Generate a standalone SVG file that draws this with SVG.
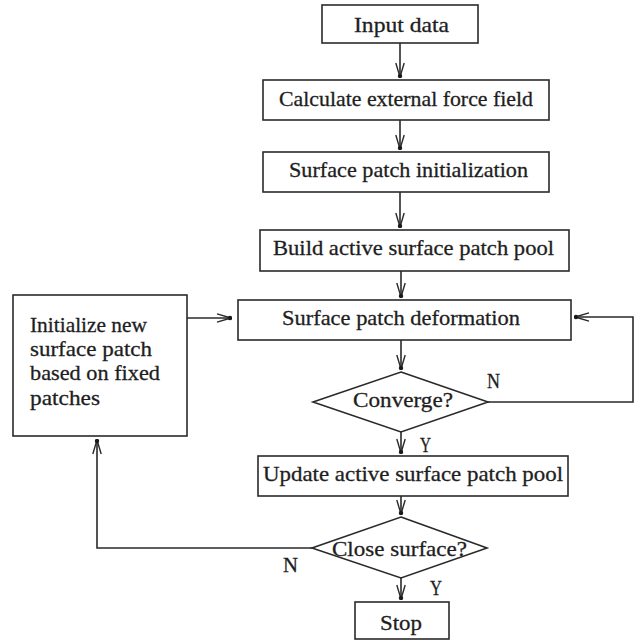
<svg xmlns="http://www.w3.org/2000/svg" width="637" height="640" viewBox="0 0 637 640">
  <style>
    .box { fill: #ffffff; stroke: #2a2a2a; stroke-width: 1.6; }
    .lbl { font-family: "Liberation Serif", "Times New Roman", serif; font-size: 22px; fill: #1e1e1e; stroke: #1e1e1e; stroke-width: 0.3; }
    .wire { fill: none; stroke: #2a2a2a; stroke-width: 1.6; }
  </style>
  <defs>
    <!-- open barbed arrowhead with a dot at the tip -->
    <marker id="arr" viewBox="0 0 16 12" markerWidth="16" markerHeight="12" refX="15" refY="6" orient="auto" markerUnits="userSpaceOnUse">
      <path d="M1,1.8 L15,6 L1,10.2" fill="none" stroke="#2a2a2a" stroke-width="1.4"/>
      <circle cx="14" cy="6" r="2.2" fill="#1a1a1a"/>
    </marker>
  </defs>

  <rect width="637" height="640" fill="#ffffff"/>

  <g id="connectors">
    <line class="wire" x1="400" y1="43" x2="400" y2="77" marker-end="url(#arr)"/>
    <line class="wire" x1="400" y1="120" x2="400" y2="149" marker-end="url(#arr)"/>
    <line class="wire" x1="400" y1="192" x2="400" y2="227" marker-end="url(#arr)"/>
    <line class="wire" x1="401" y1="271" x2="401" y2="297" marker-end="url(#arr)"/>
    <line class="wire" x1="401" y1="340" x2="401" y2="369" marker-end="url(#arr)"/>
    <line class="wire" x1="401" y1="432" x2="401" y2="453" marker-end="url(#arr)"/>
    <line class="wire" x1="401" y1="496" x2="401" y2="514" marker-end="url(#arr)"/>
    <line class="wire" x1="401" y1="578" x2="401" y2="599" marker-end="url(#arr)"/>
    <polyline class="wire" points="488,402 633,402 633,317 575,317" marker-end="url(#arr)"/>
    <polyline class="wire" points="312,548 97,548 97,440" marker-end="url(#arr)"/>
    <line class="wire" x1="187" y1="318" x2="231" y2="318" marker-end="url(#arr)"/>
    <text class="lbl" x="487" y="388" textLength="13" lengthAdjust="spacingAndGlyphs">N</text>
    <text class="lbl" x="420" y="452" textLength="11" lengthAdjust="spacingAndGlyphs">Y</text>
    <text class="lbl" x="283" y="572" textLength="15" lengthAdjust="spacingAndGlyphs">N</text>
    <text class="lbl" x="430" y="595" textLength="12" lengthAdjust="spacingAndGlyphs">Y</text>
  </g>

  <g id="input">
    <rect class="box" x="322" y="5" width="156" height="38"/>
    <text class="lbl" x="354" y="32" textLength="95" lengthAdjust="spacingAndGlyphs">Input data</text>
  </g>
  <g id="force-field">
    <rect class="box" x="263" y="80" width="286" height="40"/>
    <text class="lbl" x="279" y="106" textLength="254" lengthAdjust="spacingAndGlyphs">Calculate external force field</text>
  </g>
  <g id="patch-init">
    <rect class="box" x="263" y="152" width="286" height="40"/>
    <text class="lbl" x="289" y="177" textLength="239" lengthAdjust="spacingAndGlyphs">Surface patch initialization</text>
  </g>
  <g id="build-pool">
    <rect class="box" x="260" y="230" width="309" height="41"/>
    <text class="lbl" x="273" y="255" textLength="281" lengthAdjust="spacingAndGlyphs">Build active surface patch pool</text>
  </g>
  <g id="deformation">
    <rect class="box" x="238" y="300" width="333" height="40"/>
    <text class="lbl" x="282" y="325" textLength="238" lengthAdjust="spacingAndGlyphs">Surface patch deformation</text>
  </g>
  <g id="new-patch">
    <rect class="box" x="13" y="295" width="174" height="141"/>
    <text class="lbl" x="30" y="332" textLength="117" lengthAdjust="spacingAndGlyphs">Initialize new</text>
    <text class="lbl" x="30" y="356" textLength="122" lengthAdjust="spacingAndGlyphs">surface patch</text>
    <text class="lbl" x="30" y="380" textLength="130" lengthAdjust="spacingAndGlyphs">based on fixed</text>
    <text class="lbl" x="30" y="405" textLength="70" lengthAdjust="spacingAndGlyphs">patches</text>
  </g>
  <g id="converge">
    <polygon class="box" points="401,372 488,402 401,432 313,402"/>
    <text class="lbl" x="353" y="407" textLength="100" lengthAdjust="spacingAndGlyphs">Converge?</text>
  </g>
  <g id="update-pool">
    <rect class="box" x="258" y="456" width="310" height="40"/>
    <text class="lbl" x="263" y="481" textLength="300" lengthAdjust="spacingAndGlyphs">Update active surface patch pool</text>
  </g>
  <g id="close-surface">
    <polygon class="box" points="401,517 487,548 401,578 312,548"/>
    <text class="lbl" x="332" y="556" textLength="135" lengthAdjust="spacingAndGlyphs">Close surface?</text>
  </g>
  <g id="stop">
    <rect class="box" x="355" y="602" width="94" height="37"/>
    <text class="lbl" x="380" y="630" textLength="42" lengthAdjust="spacingAndGlyphs">Stop</text>
  </g>
</svg>
